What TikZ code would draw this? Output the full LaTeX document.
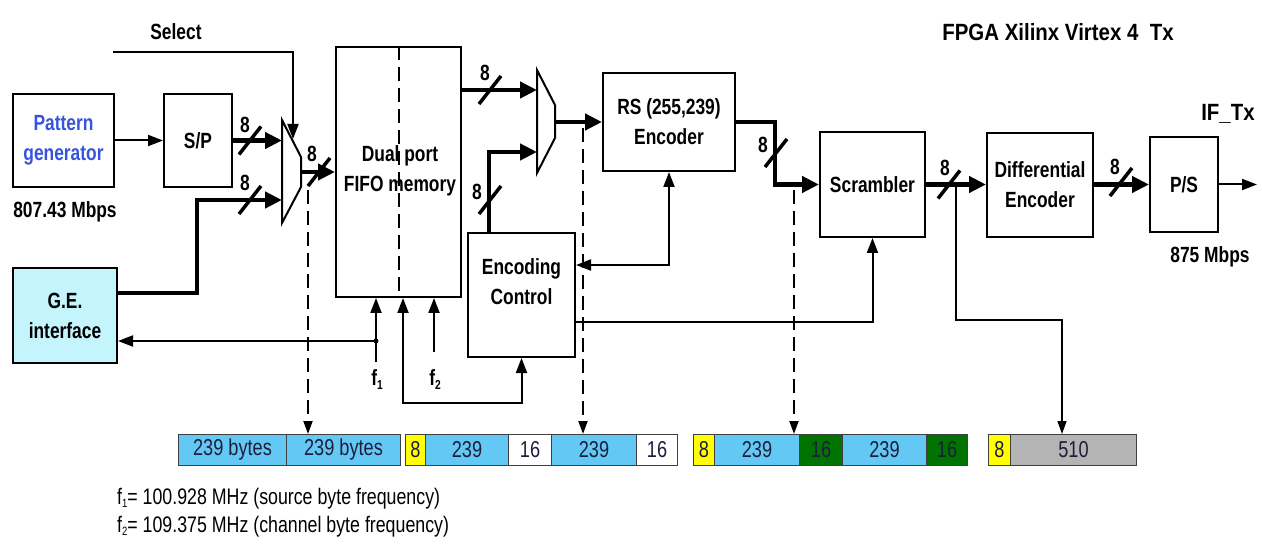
\documentclass[tikz,border=0pt]{standalone}
\usepackage{fontspec}
\setmainfont{Liberation Sans}
\newfontfamily\nf[FakeStretch=0.79]{Liberation Sans}
\newfontfamily\nt[FakeStretch=0.87]{Liberation Sans}
\usetikzlibrary{arrows.meta,calc}
\definecolor{pgblue}{RGB}{55,85,220}
\definecolor{gefill}{RGB}{196,244,252}
\definecolor{pkblue}{RGB}{100,200,245}
\definecolor{pkyellow}{RGB}{255,255,0}
\definecolor{pkgreen}{RGB}{0,115,0}
\definecolor{pkgray}{RGB}{180,180,180}
\definecolor{pktext}{RGB}{30,30,60}
\newcommand{\busmark}[5]{%
  \draw[busslash] (#2-11,#3+14) -- (#2+11,#3-14);
  \node[lbl] (#1) at (#4,#5) {8};}
\begin{document}
\begin{tikzpicture}[x=1pt,y=-1pt,
  bfnt/.style={font=\nf\bfseries\fontsize{22}{30}\selectfont},
  blk/.style={draw, line width=2pt, bfnt, align=center, inner sep=0pt},
  lbl/.style={bfnt, inner sep=0pt},
  thinl/.style={line width=2pt},
  busl/.style={line width=4.5pt},
  tarr/.style={-{Triangle[length=15pt,width=11pt]}},
  tarrb/.style={{Triangle[length=15pt,width=11pt]}-{Triangle[length=15pt,width=11pt]}},
  barr/.style={-{Triangle[length=17pt,width=16pt]}},
  dsh/.style={line width=2pt, dash pattern=on 14pt off 7pt},
  darr/.style={-{Triangle[length=13pt,width=9pt]}},
  busslash/.style={line width=3.5pt},
  pk/.style={draw=black!75, line width=1pt, minimum height=31pt, inner sep=0pt, anchor=west, text=pktext, font=\nf\fontsize{23}{26}\selectfont},
  note/.style={anchor=west, inner sep=0pt, font=\nf\fontsize{22.5}{26}\selectfont},
]
\useasboundingbox (0,0) rectangle (1262,548);

% ---- blocks
\node[blk, text=pgblue, minimum width=101pt, minimum height=93pt] (pg) at (63.5,140.5) {Pattern\\generator};
\node[blk, minimum width=68pt, minimum height=93pt] (sp) at (198,140.5) {S/P};
\node[blk, fill=gefill, minimum width=104pt, minimum height=95pt] (ge) at (65,315.5) {G.E.\\interface};
\node[draw, line width=2pt, minimum width=125pt, minimum height=250pt, inner sep=0pt] (fifo) at (398.5,172) {};
\draw[dsh] (fifo.north) -- (fifo.south);
\node[lbl, align=center] (fifot) at (400,171) {Dual port\\FIFO memory};
\node[blk, minimum width=132pt, minimum height=98pt] (rs) at (669,122) {RS (255,239)\\Encoder};
\node[draw, line width=2pt, minimum width=107pt, minimum height=124pt, inner sep=0pt] (enc) at (521.5,295) {};
\node[lbl, align=center] (enct) at (521.5,282) {Encoding\\Control};
\node[blk, minimum width=105pt, minimum height=105pt] (scr) at (872.5,184.5) {Scrambler};
\node[blk, minimum width=106pt, minimum height=104pt] (diff) at (1040,185) {Differential\\Encoder};
\node[blk, minimum width=68pt, minimum height=95pt] (ps) at (1184,184.5) {P/S};

% ---- multiplexers
\draw[line width=2pt] (282,120) -- (301,157) -- (301,187) -- (282,223) -- cycle;
\coordinate (m1a) at (282,140.5);
\coordinate (m1b) at (282,200);
\coordinate (m1o) at (301,172);
\coordinate (m1s) at (293,139);
\draw[line width=2pt] (537,70) -- (555,105) -- (555,138) -- (537,173) -- cycle;
\coordinate (m2a) at (537,90);
\coordinate (m2b) at (537,152);
\coordinate (m2o) at (555,122);

% ---- texts
\node[lbl] (sel) at (176,32) {Select};
\node[lbl] (rate1) at (65,212) {807.43 Mbps};
\node[lbl] (rate2) at (1210,257) {875 Mbps};
\node[inner sep=0pt, font=\nt\bfseries\fontsize{23.5}{26}\selectfont] (iftx) at (1228,114) {IF\_Tx};
\node[inner sep=0pt, font=\nt\bfseries\fontsize{23.5}{26}\selectfont] (title) at (1058,32) {FPGA Xilinx Virtex 4\ \ Tx};

% ---- connectors
\coordinate (selst) at (113,52);
\draw[thinl, tarr] (selst) -| (m1s);
\draw[thinl, tarr] (pg.east) -- (sp.west);
\draw[busl, barr] (sp.east) -- (m1a);
\coordinate (gec) at (197,200);
\draw[busl, barr] ([yshift=22.5pt]ge.east) -| (gec) -- (m1b);
\draw[busl, barr] (m1o) -- (m1o -| fifo.west);
\draw[busl, barr] (fifo.east |- m2a) -- (m2a);
\draw[busl, barr] ([xshift=22pt]enc.north west) |- (m2b);
\draw[busl, barr] (m2o) -- (m2o -| rs.west);
\coordinate (rc) at (775,122);
\draw[busl, barr] (rs.east) -- (rc) |- (scr.west);
\draw[busl, barr] (scr.east) -- (scr.east -| diff.west);
\draw[busl, barr] (diff.east |- ps.west) -- (ps.west);
\coordinate (out) at (1257,184.5);
\draw[thinl, tarr] (ps.east) -- (out);

\busmark{n1}{250}{140.5}{245}{125}
\busmark{n2}{250}{200}{245}{183}
\busmark{n3}{319}{172}{312}{154}
\busmark{n4}{490}{90}{485}{73}
\busmark{n5}{490}{200}{477}{192}
\busmark{n6}{776}{153}{763}{145}
\busmark{n7}{949}{184.5}{945}{168}
\busmark{n8}{1121}{182}{1115}{167}

% control lines
\draw[thinl, tarrb] (rs.south) |- ([yshift=30pt]enc.east);
\draw[thinl, tarr] ([yshift=-27pt]enc.east) -| (scr.south);
\coordinate (lp) at (403,403);
\draw[thinl, tarrb] (fifo.south -| lp) -- (lp) -| (enc.south);
\coordinate (f1b) at (376,362);
\coordinate (f1d) at (376,341);
\draw[thinl, tarr] (f1b) -- (f1b |- fifo.south);
\draw[thinl, tarr] (f1d) -- (f1d -| ge.east);
\fill (f1d) circle (2.5pt);
\coordinate (f2b) at (434,352);
\draw[thinl, tarr] (f2b) -- (f2b |- fifo.south);
\node[lbl] (f1l) at (377,380) {f\raisebox{-4pt}{\fontsize{13}{13}\selectfont 1}};
\node[lbl] (f2l) at (435,380) {f\raisebox{-4pt}{\fontsize{13}{13}\selectfont 2}};

% ---- packet bars
\node[pk, fill=pkblue, minimum width=108pt] (b1a) at (178,450) {239 bytes};
\node[pk, fill=pkblue, minimum width=114pt] (b1b) at (286,450) {239 bytes};

\node[pk, fill=pkyellow, minimum width=20pt] (b2a) at (405,450) {8};
\node[pk, fill=pkblue, minimum width=83pt] (b2b) at (425,450) {239};
\node[pk, fill=white, minimum width=43pt] (b2c) at (508,450) {16};
\node[pk, fill=pkblue, minimum width=85pt] (b2d) at (551,450) {239};
\node[pk, fill=white, minimum width=41pt] (b2e) at (636,450) {16};

\node[pk, fill=pkyellow, minimum width=21pt] (b3a) at (693,450) {8};
\node[pk, fill=pkblue, minimum width=85pt] (b3b) at (714,450) {239};
\node[pk, fill=pkgreen, minimum width=43pt] (b3c) at (799,450) {16};
\node[pk, fill=pkblue, minimum width=84pt] (b3d) at (842,450) {239};
\node[pk, fill=pkgreen, minimum width=41pt] (b3e) at (926,450) {16};

\node[pk, fill=pkyellow, minimum width=22pt] (b4a) at (988,450) {8};
\node[pk, fill=pkgray, minimum width=126pt] (b4b) at (1010,450) {510};

% ---- probes to packet bars
\coordinate (d1) at (308,190);
\draw[dsh, darr] (d1) -- (d1 |- b1b.north);
\coordinate (d2) at (583,128);
\draw[dsh, darr] (d2) -- (d2 |- b2d.north);
\coordinate (d3) at (794,190);
\draw[dsh, darr] (d3) -- (d3 |- b3b.north);
\coordinate (br) at (956,184.5);
\coordinate (brc) at (1062,320);
\draw[line width=1.3pt, darr] (br) |- (brc) -- (brc |- b4b.north);

% ---- notes
\node[note] (nt1) at (117,499) {f\raisebox{-3pt}{\fontsize{12}{12}\selectfont 1}= 100.928 MHz (source byte frequency)};
\node[note] (nt2) at (117,527) {f\raisebox{-3pt}{\fontsize{12}{12}\selectfont 2}= 109.375 MHz (channel byte frequency)};
\end{tikzpicture}
\end{document}
